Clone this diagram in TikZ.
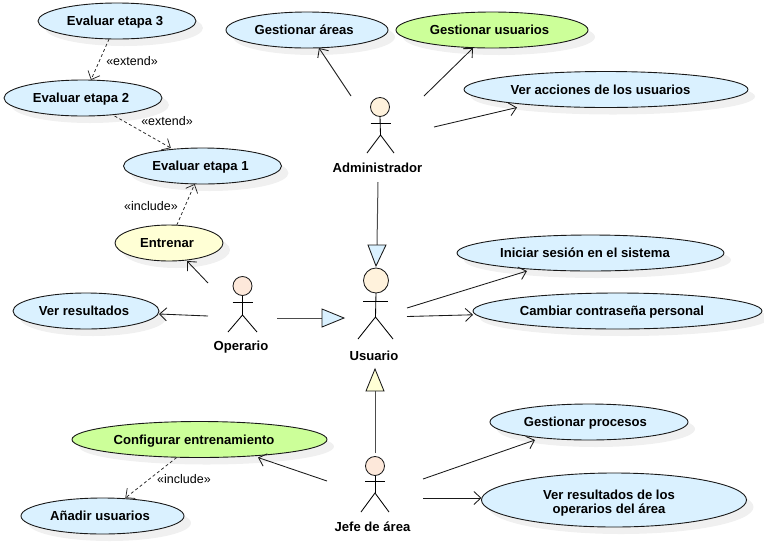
\documentclass[tikz,border=0pt]{standalone}
\usepackage{fontspec}
\setmainfont{Liberation Sans}
\usetikzlibrary{arrows.meta}
\definecolor{ucblue}{HTML}{DAF1FF}
\definecolor{ucgreen}{HTML}{CCFF99}
\definecolor{ucyellow}{HTML}{FFFFD5}
\definecolor{headA}{HTML}{FFF2DC}
\definecolor{headB}{HTML}{FDE8DA}
\definecolor{shadowc}{HTML}{F0F0F0}
\tikzset{
  x=1pt,y=-1pt,
  ucshape/.style={draw=black!90,line width=.9pt},
  uctext/.style={rectangle,inner sep=0pt,outer sep=0pt,align=center,
    font=\fontsize{13.1}{15.5}\selectfont\bfseries},
  lbl/.style={font=\fontsize{13.1}{15}\selectfont\bfseries,inner sep=0pt},
  st/.style={font=\fontsize{12.5}{14}\selectfont,inner sep=0pt},
  assoc/.style={draw=black!90,line width=.85pt,-{Straight Barb[length=7pt,width=13pt,line width=.85pt]}},
  dep/.style={draw=black!85,line width=.75pt,dash pattern=on 3pt off 2.5pt,-{Straight Barb[length=7pt,width=13pt,line width=.75pt]}},
  gen/.style={draw=black!70,line width=1pt},
  tri/.style={draw=black!90,line width=.85pt,line join=miter},
  limb/.style={draw=black,line width=.85pt},
  head/.style={circle,draw=black!90,line width=.85pt,inner sep=0pt,outer sep=0pt},
}
% name, x, y, half width, half height, fill, text
\newcommand{\usecase}[7]{%
  \fill[shadowc] (#2+7,#3+7) ellipse [x radius=#4pt,y radius=#5pt];
  \draw[ucshape,fill=#6] (#2,#3) ellipse [x radius=#4pt,y radius=#5pt];
  \node[uctext,minimum width=2*#4pt,minimum height=2*#5pt] (#1) at (#2,#3) {\raisebox{-4.9pt}[0pt][0pt]{#7\hspace*{4pt}}};
}
\newcommand{\limbs}[8]{% head node, x, armY, armHalf, hipY, legDx, legY, torso x
  \draw[limb] (#1.south) -- (#8,#5);
  \draw[limb] (#2-#4,#3) -- (#2+#4,#3);
  \draw[limb] (#8-#6,#7) -- (#8,#5) -- (#8+#6,#7);
}
\begin{document}
\begin{tikzpicture}
\useasboundingbox (0,0) rectangle (764,542);
% use cases
\usecase{e3}{117}{21}{79}{18}{ucblue}{Evaluar etapa 3}
\usecase{e2}{83}{98}{79}{18}{ucblue}{Evaluar etapa 2}
\usecase{e1}{202.5}{166}{79}{18}{ucblue}{Evaluar etapa 1}
\usecase{ent}{169}{243}{54}{18}{ucyellow}{Entrenar}
\usecase{vr}{86}{311}{73}{18}{ucblue}{Ver resultados}
\usecase{ga}{307}{30}{81}{18}{ucblue}{Gestionar áreas\hspace*{1.5pt}}
\usecase{gu}{492}{30}{96}{18}{ucgreen}{Gestionar usuarios\hspace*{1pt}}
\usecase{va}{606}{89.5}{142}{18}{ucblue}{Ver acciones de los usuarios\hspace*{7pt}}
\usecase{is}{590.5}{253}{133.5}{18}{ucblue}{Iniciar sesión en el sistema\hspace*{7pt}}
\usecase{cc}{617.5}{311}{144.5}{18}{ucblue}{Cambiar contraseña personal\hspace*{7pt}}
\usecase{gp}{589}{422}{99}{18}{ucblue}{Gestionar procesos\hspace*{3pt}}
\usecase{vo}{614}{500}{132.5}{27}{ucblue}{\raisebox{-8.5pt}{\begin{tabular}[b]{@{}c@{}}Ver resultados de los\\[-1.5pt]operarios del área\end{tabular}}\hspace*{6pt}}
\usecase{ce}{199.5}{439.5}{127.5}{18}{ucgreen}{Configurar entrenamiento\hspace*{7pt}}
\usecase{au}{102.5}{516}{81.5}{18}{ucblue}{Añadir usuarios\hspace*{1pt}}
% actors
\node[head,fill=headA,minimum size=19pt] (adm) at (380,107) {};
\limbs{adm}{380.5}{123}{10}{135}{13.5}{153}{380.5}
\node[lbl] (admL) at (377.5,168) {Administrador};
\node[head,fill=headA,minimum size=25pt] (usu) at (376,280.5) {};
\limbs{usu}{375.5}{301}{12.5}{317}{17.5}{339}{375.5}
\node[lbl] (usuL) at (374,355.5) {Usuario};
\node[head,fill=headB,minimum size=19pt] (ope) at (242.5,286) {};
\limbs{ope}{242.5}{302}{10}{315}{14.5}{332}{242.5}
\node[lbl] (opeL) at (241,347.5) {Operario};
\node[head,fill=headB,minimum size=19pt] (jef) at (375,466) {};
\limbs{jef}{375}{481}{10}{493}{14}{512}{375}
\node[lbl] (jefL) at (372.5,527) {Jefe de área};
% free ends of the connectors
\coordinate (a1) at (351,96);
\coordinate (a2) at (424,96);
\coordinate (a3) at (434,127);
\coordinate (u1) at (407,308);
\coordinate (u2) at (407,316.5);
\coordinate (o1) at (208,283);
\coordinate (o2) at (208,316);
\coordinate (j1) at (423,479);
\coordinate (j2) at (423,498);
\coordinate (j3) at (327,481);
% associations
\draw[assoc] (a1) -- (ga);
\draw[assoc] (a2) -- ([xshift=-19pt]gu.south);
\draw[assoc] (a3) -- ([xshift=-89pt]va.south);
\draw[assoc] (u1) -- ([xshift=-63.5pt]is.south);
\draw[assoc] (u2) -- (cc);
\draw[assoc] (o1) -- ([xshift=18pt]ent.south);
\draw[assoc] (o2) -- (vr);
\draw[assoc] (j1) -- ([xshift=-54pt]gp.south);
\draw[assoc] (j2) -- (j2 -| vo.west);
\draw[assoc] (j3) -- ([xshift=58.5pt]ce.south);
% dependencies
\draw[dep] (e3) -- (e2);
\draw[dep] (e2) -- (e1);
\draw[dep] (ent) -- (e1);
\draw[dep] (ce) -- (au);
\node[st] (l1) at (132,61) {«extend»};
\node[st] (l2) at (167,121) {«extend»};
\node[st] (l3) at (151,206) {«include»};
\node[st] (l4) at (184,479) {«include»};
% generalizations
\coordinate (g1s) at (378,182);
\coordinate (g1e) at (377,245);
\coordinate (g2s) at (277,318);
\coordinate (g2e) at (322,318);
\coordinate (g3s) at (375,453);
\coordinate (g3e) at (375,391);
\draw[gen] (g1s) -- (g1e);
\draw[gen] (g2s) -- (g2e);
\draw[gen] (g3s) -- (g3e);
\draw[tri,fill=ucblue] (368,245) -- (386,245) -- (376,266) -- cycle;
\draw[tri,fill=ucblue] (322,309) -- (344,318) -- (322,327) -- cycle;
\draw[tri,fill=ucyellow] (366,391) -- (375,369) -- (384,391) -- cycle;
\end{tikzpicture}
\end{document}
